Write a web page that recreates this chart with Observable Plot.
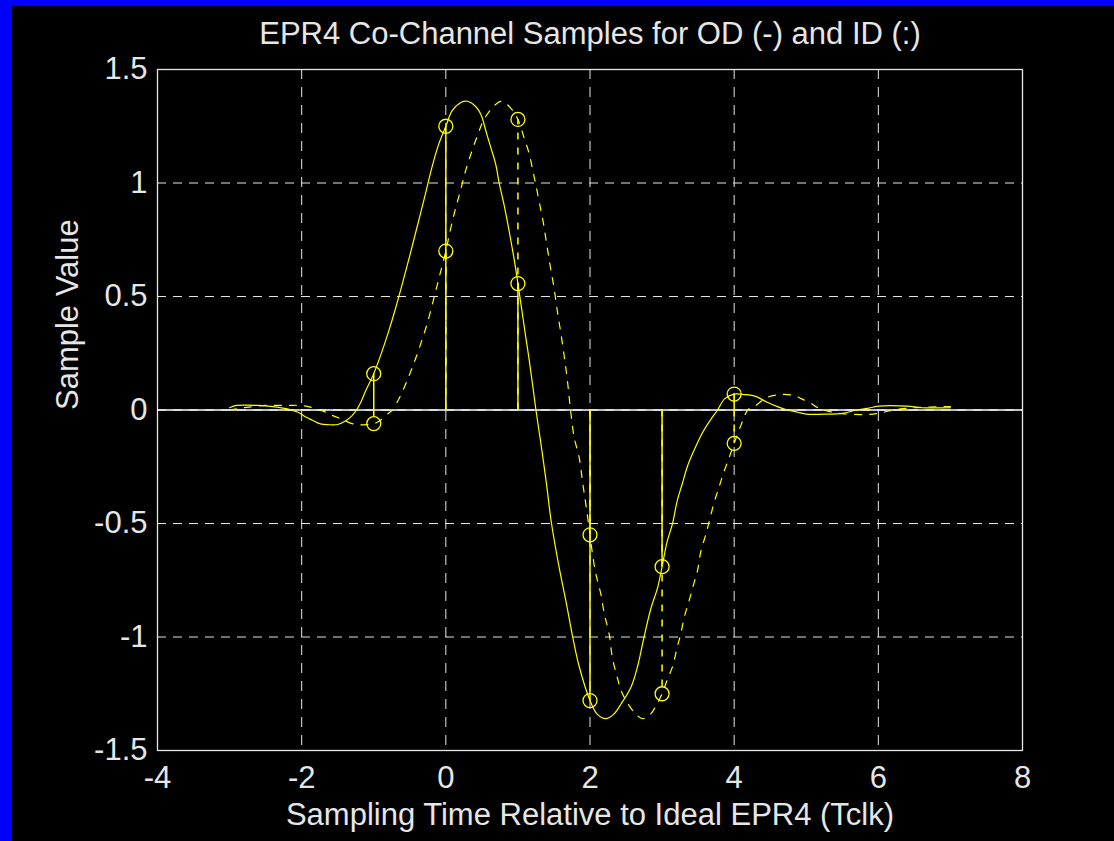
<!DOCTYPE html>
<html>
<head>
<meta charset="utf-8">
<script src="https://cdn.jsdelivr.net/npm/d3@7"></script>
<script src="https://cdn.jsdelivr.net/npm/@observablehq/plot@0.6"></script>
<style>
  html, body { margin: 0; padding: 0; background: #0000ff; overflow: hidden; width: 1114px; height: 841px; }
  #chart { position: absolute; left: 12px; top: 6px; }
</style>
</head>
<body>
<div id="chart"></div>
<script>
// OD (solid) continuous waveform
const odTime = [-3.0,-2.9,-2.6,-2.4,-2.2,-2.05,-1.95,-1.85,-1.75,-1.6,-1.5,-1.4,-1.3,-1.22,-1.18,-1.11,-1.0,-0.9,-0.8,-0.7,-0.6,-0.5,-0.4,-0.3,-0.2,-0.1,0.0,0.09,0.21,0.3,0.42,0.49,0.555,0.62,0.69,0.74,0.81,0.86,0.9,0.95,1.0,1.05,1.1,1.15,1.2,1.25,1.32,1.39,1.466,1.57,1.665,1.76,1.85,2.0,2.1,2.22,2.33,2.43,2.57,2.66,2.75,2.84,2.94,3.0,3.07,3.145,3.21,3.28,3.35,3.44,3.56,3.7,3.77,3.87,4.0,4.15,4.3,4.45,4.6,4.74,4.88,5.0,5.3,5.5,5.7,5.85,6.0,6.4,6.6,7.0];
const odValue = [0.01,0.02,0.02,0.015,0.005,-0.01,-0.03,-0.045,-0.06,-0.065,-0.064,-0.05,-0.025,0.01,0.034,0.086,0.16,0.245,0.34,0.445,0.56,0.68,0.805,0.93,1.06,1.17,1.25,1.32,1.355,1.36,1.335,1.3,1.23,1.16,1.085,1.0,0.9,0.82,0.75,0.66,0.557,0.45,0.34,0.235,0.12,0.0,-0.15,-0.31,-0.5,-0.69,-0.84,-1.0,-1.13,-1.28,-1.34,-1.36,-1.34,-1.295,-1.22,-1.13,-1.0,-0.88,-0.78,-0.69,-0.58,-0.5,-0.4,-0.325,-0.25,-0.18,-0.1,-0.03,0.0,0.05,0.07,0.068,0.06,0.035,0.015,0.0,-0.01,-0.018,-0.018,-0.015,0.0,0.007,0.017,0.017,0.01,0.01];

// ID (dashed) continuous waveform
const idTime = [-3.0,-2.8,-2.5,-2.2,-2.0,-1.85,-1.7,-1.6,-1.45,-1.3,-1.2,-1.1,-1.0,-0.93,-0.85,-0.78,-0.74,-0.65,-0.55,-0.45,-0.35,-0.25,-0.16,-0.08,0.0,0.06,0.12,0.18,0.23,0.28,0.35,0.44,0.53,0.67,0.77,0.9,1.0,1.085,1.155,1.21,1.25,1.3,1.35,1.4,1.45,1.5,1.55,1.6,1.65,1.69,1.73,1.78,1.85,1.9,1.94,2.0,2.035,2.08,2.15,2.2,2.265,2.31,2.38,2.43,2.5,2.61,2.73,2.84,2.92,3.0,3.07,3.145,3.21,3.26,3.31,3.375,3.44,3.49,3.54,3.61,3.65,3.72,3.78,3.85,3.93,4.0,4.09,4.19,4.3,4.46,4.65,4.83,4.93,5.06,5.16,5.3,5.5,5.8,6.0,6.2,6.5,6.9,7.0];
const idValue = [0.0,0.01,0.02,0.02,0.02,0.01,-0.005,-0.02,-0.04,-0.06,-0.065,-0.064,-0.06,-0.05,-0.03,-0.01,0.0,0.05,0.12,0.2,0.29,0.39,0.5,0.6,0.7,0.79,0.87,0.94,1.0,1.06,1.13,1.21,1.28,1.34,1.36,1.33,1.28,1.2,1.13,1.05,0.99,0.91,0.83,0.73,0.63,0.54,0.43,0.33,0.22,0.12,0.0,-0.12,-0.21,-0.325,-0.41,-0.55,-0.635,-0.72,-0.81,-0.9,-0.985,-1.09,-1.18,-1.235,-1.28,-1.33,-1.36,-1.34,-1.3,-1.25,-1.19,-1.13,-1.045,-0.985,-0.91,-0.84,-0.765,-0.71,-0.62,-0.545,-0.495,-0.41,-0.35,-0.28,-0.21,-0.147,-0.07,0.0,0.02,0.056,0.068,0.064,0.05,0.03,0.01,-0.005,-0.016,-0.02,-0.015,0.0,0.01,0.015,0.015];

// Samples at integer clock times
const sampleTime = [-1, 0, 1, 2, 3, 4];
const odSamples = [0.16, 1.25, 0.557, -1.28, -0.69, 0.07];
const idSamples = [-0.06, 0.70, 1.28, -0.55, -1.25, -0.147];

const xTicks = [-4, -2, 0, 2, 4, 6, 8];
const yTicks = [-1.5, -1, -0.5, 0, 0.5, 1, 1.5];

const titleText = "EPR4 Co-Channel Samples for OD (-) and ID (:)";
const xLabelText = "Sampling Time Relative to Ideal EPR4 (Tclk)";
const yLabelText = "Sample Value";

const od = odTime.map((t, i) => ({t, v: odValue[i]}));
const id = idTime.map((t, i) => ({t, v: idValue[i]}));
const odS = sampleTime.map((t, i) => ({t, v: odSamples[i]}));
const idS = sampleTime.map((t, i) => ({t, v: idSamples[i]}));

const yellow = "#ffff00";
const axisColor = "#e6e6e6";

const chart = Plot.plot({
  width: 1102,
  height: 835,
  marginLeft: 145,
  marginRight: 92,
  marginTop: 63,
  marginBottom: 91,
  style: {background: "black", color: axisColor, fontFamily: "'Liberation Sans', Arial, sans-serif", fontSize: "31px", overflow: "visible"},
  x: {domain: [-4, 8], ticks: xTicks, tickFormat: d => String(d)},
  y: {domain: [-1.5, 1.5], ticks: yTicks, tickFormat: d => String(d)},
  marks: [
    Plot.gridX(xTicks.slice(1, -1), {stroke: axisColor, strokeOpacity: 1, strokeDasharray: "10,8"}),
    Plot.gridY(yTicks.slice(1, -1), {stroke: axisColor, strokeOpacity: 1, strokeDasharray: "9,7"}),
    Plot.frame({stroke: axisColor, strokeWidth: 1.3}),
    Plot.ruleY([0], {stroke: "white", strokeWidth: 1.5}),
    Plot.line(id, {x: "t", y: "v", stroke: yellow, strokeWidth: 1.2, strokeDasharray: "7,8", curve: "catmull-rom"}),
    Plot.line(od, {x: "t", y: "v", stroke: yellow, strokeWidth: 1.2, curve: "catmull-rom"}),
    Plot.ruleX(idS, {x: "t", y1: 0, y2: "v", stroke: yellow, strokeWidth: 1.5, strokeDasharray: "7,8"}),
    Plot.ruleX(odS, {x: "t", y1: 0, y2: "v", stroke: yellow, strokeWidth: 1.5}),
    Plot.dot(idS, {x: "t", y: "v", r: 7, stroke: yellow, strokeWidth: 1.3, fill: "none"}),
    Plot.dot(odS, {x: "t", y: "v", r: 7, stroke: yellow, strokeWidth: 1.3, fill: "none"}),
    Plot.axisX({ticks: xTicks, tickSize: 0, tickPadding: 15, label: null, tickFormat: d => String(d)}),
    Plot.axisY({ticks: yTicks, tickSize: 0, tickPadding: 10, label: null, tickFormat: d => String(d)}),
    Plot.text([titleText], {frameAnchor: "top", text: d => d, lineAnchor: "bottom", dy: -26, fill: axisColor}),
    Plot.text([xLabelText], {frameAnchor: "bottom", text: d => d, lineAnchor: "bottom", dy: 74, fill: axisColor}),
    Plot.text([yLabelText], {frameAnchor: "left", text: d => d, lineAnchor: "bottom", rotate: -90, dx: -80, fill: axisColor})
  ]
});
document.getElementById("chart").appendChild(chart);
</script>
</body>
</html>
